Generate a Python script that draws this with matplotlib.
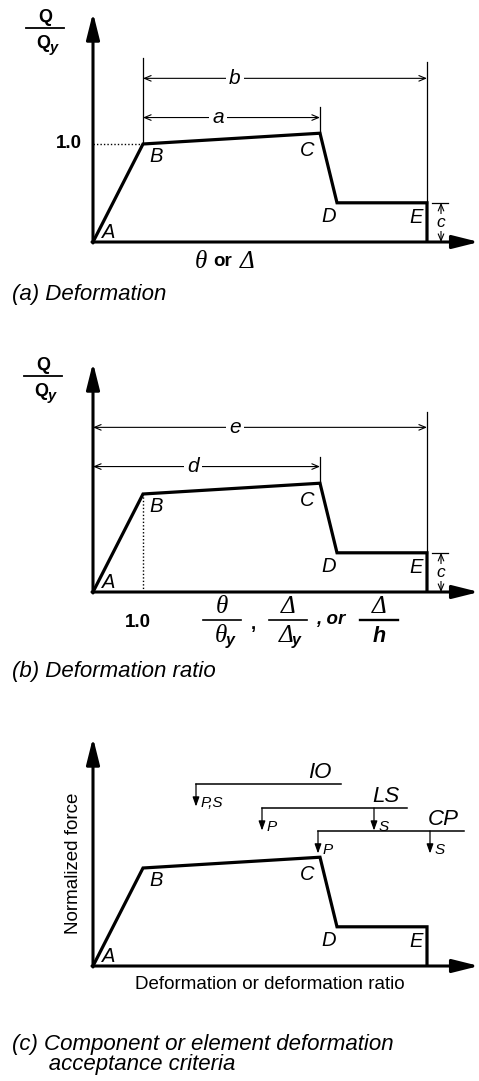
import matplotlib
matplotlib.use("Agg")
import matplotlib.pyplot as plt

# ---------------- data ----------------
deformation = [0.0, 1.0, 4.54, 4.88, 6.68, 6.68]
norm_force = [0.0, 1.0, 1.11, 0.40, 0.40, 0.0]
point_labels = ["A", "B", "C", "D", "E"]
label_x = [0.32, 1.26, 4.28, 4.72, 6.46]
label_y = [0.10, 0.87, 0.93, 0.26, 0.25]

level_names = ["IO", "LS", "CP"]
level_y = [1.857, 1.612, 1.378]
level_x_start = [2.06, 3.38, 4.50]
level_x_end = [4.96, 6.28, 7.42]
primary_x = [2.06, 3.38, 4.50]
primary_lbl = ["P,S", "P", "P"]
secondary_x = [None, 5.62, 6.74]
secondary_lbl = [None, "S", "S"]

titles = ["(a) Deformation", "(b) Deformation ratio",
          "(c) Component or element deformation\n      acceptance criteria"]

W, H = 479, 1081
fig = plt.figure(figsize=(W / 100, H / 100), dpi=100)

SANS = "Liberation Sans"
SERIF = "Liberation Serif"
PX_X = 50.0   # pixels per deformation unit
PX_Y = 98.0   # pixels per force unit
X0 = 93       # pixel column of origin


def make_axes(top_px, bot_px, origin_px):
    ax = fig.add_axes([0, 1 - bot_px / H, 1, (bot_px - top_px) / H])
    ax.set_xlim(-X0 / PX_X, (W - X0) / PX_X)
    ax.set_ylim(-(bot_px - origin_px) / PX_Y, (origin_px - top_px) / PX_Y)
    ax.axis("off")
    return ax


def axes_arrows(ax, ytop=2.34, xend=7.72):
    kw = dict(arrowstyle="-|>,head_length=0.8,head_width=0.2", lw=2.2,
              color="black", mutation_scale=20, shrinkA=0, shrinkB=0)
    ax.annotate("", xy=(0, ytop), xytext=(0, -0.01), arrowprops=kw)
    ax.annotate("", xy=(xend, 0), xytext=(-0.02, 0), arrowprops=kw)


def backbone(ax):
    ax.plot(deformation, norm_force, color="black", lw=2.3,
            solid_joinstyle="miter", solid_capstyle="butt")
    for t, x, y in zip(point_labels, label_x, label_y):
        ax.text(x, y, t, fontsize=14.5, fontstyle="italic", family=SANS,
                ha="center", va="center")


def dim_arrow(ax, p0, p1, label=None, lx=None, fs=15):
    ax.annotate("", xy=p1, xytext=p0,
                arrowprops=dict(arrowstyle="<->,head_length=0.6,head_width=0.25",
                                lw=0.8, color="black", mutation_scale=8,
                                shrinkA=0, shrinkB=0))
    if label is not None:
        ax.text(lx, p0[1], label, fontsize=fs, fontstyle="italic", family=SANS,
                ha="center", va="center",
                bbox=dict(facecolor="white", edgecolor="none", pad=2.5))


def qqy(ax, x, y_top):
    ax.text(x, y_top, "Q", fontsize=13, fontweight="bold", family=SANS,
            ha="center", va="center")
    ax.plot([x - 0.38, x + 0.38], [y_top - 0.11, y_top - 0.11], color="black", lw=1.3)
    ax.text(x - 0.03, y_top - 0.26, "Q", fontsize=13, fontweight="bold",
            family=SANS, ha="center", va="center")
    ax.text(x + 0.09, y_top - 0.31, "y", fontsize=10.5, fontweight="bold",
            fontstyle="italic", family=SANS, ha="left", va="center")


def c_dim(ax):
    xe = deformation[-1]
    ax.plot([6.78, 7.1], [norm_force[3], norm_force[3]], color="black", lw=0.9)
    ax.plot([xe, xe], [norm_force[4], 1.84], color="black", lw=0.9)
    dim_arrow(ax, (6.96, 0.0), (6.96, norm_force[3]))
    ax.text(6.96, 0.2, "c", fontsize=12.5, fontstyle="italic", family=SANS,
            ha="center", va="center",
            bbox=dict(facecolor="white", edgecolor="none", pad=0.5))


# ---------------- panel (a) ----------------
ax = make_axes(0, 320, 242)
axes_arrows(ax)
ax.plot([0, deformation[1]], [1.0, 1.0], color="black", lw=1.0, ls=(0, (1, 1.5)))
ax.plot([deformation[1]] * 2, [norm_force[1], 1.88], color="black", lw=0.9)
ax.plot([deformation[2]] * 2, [norm_force[2], 1.38], color="black", lw=0.9)
backbone(ax)
c_dim(ax)
dim_arrow(ax, (deformation[1], 1.67), (deformation[4], 1.67), "b", 2.84)
dim_arrow(ax, (deformation[1], 1.27), (deformation[2], 1.27), "a", 2.5)
ax.text(-0.22, 1.0, "1.0", fontsize=13.5, fontweight="bold", family=SANS,
        ha="right", va="center")
qqy(ax, -0.96, 2.29)
ax.text(2.16, -0.2, "θ", fontsize=18, fontstyle="italic", family=SERIF,
        ha="center", va="center")
ax.text(2.6, -0.2, "or", fontsize=13.5, fontweight="bold", family=SANS,
        ha="center", va="center")
ax.text(3.08, -0.2, "Δ", fontsize=18, fontstyle="italic", family=SERIF,
        ha="center", va="center")
ax.text(-1.62, -0.54, titles[0], fontsize=16, fontstyle="italic", family=SANS,
        ha="left", va="center")

# ---------------- panel (b) ----------------
ax = make_axes(320, 720, 592)
axes_arrows(ax)
ax.plot([deformation[1]] * 2, [0, norm_force[1]], color="black", lw=1.0,
        ls=(0, (1, 1.5)))
ax.plot([deformation[2]] * 2, [norm_force[2], 1.38], color="black", lw=0.9)
backbone(ax)
c_dim(ax)
dim_arrow(ax, (0, 1.68), (deformation[4], 1.68), "e", 2.84)
dim_arrow(ax, (0, 1.28), (deformation[2], 1.28), "d", 2.0)
qqy(ax, -1.0, 2.31)
ax.text(0.9, -0.31, "1.0", fontsize=13.5, fontweight="bold", family=SANS,
        ha="center", va="center")
ybar, ynum, yden = -0.286, -0.15, -0.45
for cx, num, den, sub in [(2.58, "θ", "θ", "y"), (3.9, "Δ", "Δ", "y")]:
    ax.plot([cx - 0.38, cx + 0.38], [ybar, ybar], color="black", lw=1.2)
    ax.text(cx, ynum, num, fontsize=18, fontstyle="italic", family=SERIF,
            ha="center", va="center")
    ax.text(cx - 0.03, yden, den, fontsize=18, fontstyle="italic", family=SERIF,
            ha="center", va="center")
    ax.text(cx + 0.08, yden - 0.05, sub, fontsize=11.5, fontweight="bold",
            fontstyle="italic", family=SANS, ha="left", va="center")
ax.text(3.2, -0.33, ",", fontsize=13.5, fontweight="bold", family=SANS,
        ha="center", va="center")
ax.text(4.76, -0.28, ", or", fontsize=13.5, fontweight="bold", fontstyle="italic",
        family=SANS, ha="center", va="center")
ax.plot([5.72 - 0.38, 5.72 + 0.38], [ybar, ybar], color="black", lw=1.7)
ax.text(5.72, ynum, "Δ", fontsize=18, fontstyle="italic", family=SERIF,
        ha="center", va="center")
ax.text(5.72, yden, "h", fontsize=15.5, fontweight="bold", fontstyle="italic",
        family=SANS, ha="center", va="center")
ax.text(-1.62, -0.816, titles[1], fontsize=16, fontstyle="italic", family=SANS,
        ha="left", va="center")

# ---------------- panel (c) ----------------
ax = make_axes(720, 1081, 966)
axes_arrows(ax, ytop=2.33)
backbone(ax)
small_arrow = dict(arrowstyle="-|>,head_length=0.7,head_width=0.25", lw=0.9,
                   color="black", mutation_scale=8, shrinkA=0, shrinkB=0)
for name, y, xs, xe, px, pl, sx, sl in zip(level_names, level_y, level_x_start,
                                           level_x_end, primary_x, primary_lbl,
                                           secondary_x, secondary_lbl):
    ax.plot([xs, xe], [y, y], color="black", lw=1.1)
    ax.text(xe - 0.42, y + 0.115, name, fontsize=16, fontstyle="italic",
            family=SANS, ha="center", va="center")
    ax.annotate("", xy=(px, y - 0.23), xytext=(px, y), arrowprops=small_arrow)
    ax.text(px + 0.1, y - 0.19, pl, fontsize=11, fontstyle="italic", family=SANS,
            ha="left", va="center")
    if sx is not None:
        ax.annotate("", xy=(sx, y - 0.23), xytext=(sx, y), arrowprops=small_arrow)
        ax.text(sx + 0.1, y - 0.19, sl, fontsize=11, fontstyle="italic",
                family=SANS, ha="left", va="center")
ax.text(-0.4, 1.05, "Normalized force", fontsize=13.5, family=SANS,
        rotation=90, ha="center", va="center")
ax.text(3.54, -0.19, "Deformation or deformation ratio", fontsize=13.5,
        family=SANS, ha="center", va="center")
ax.text(-1.62, -0.9, titles[2], fontsize=16, fontstyle="italic", family=SANS,
        ha="left", va="center", linespacing=0.95)

fig.savefig("out.png", dpi=100, facecolor="white")
